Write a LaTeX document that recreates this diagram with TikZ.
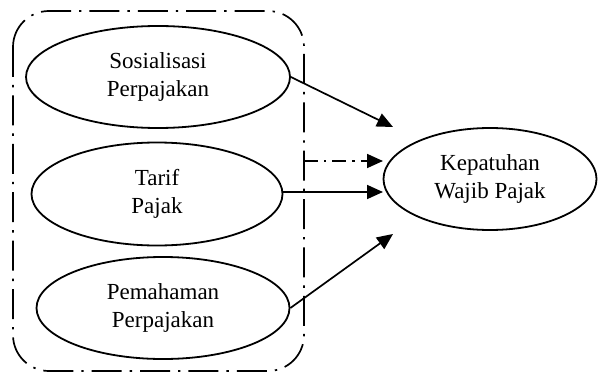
\documentclass[tikz,border=0pt]{standalone}
\usepackage{fontspec}
\setmainfont{Liberation Serif}
\usetikzlibrary{shapes.geometric,arrows.meta}
\begin{document}
\begin{tikzpicture}[x=0.5pt,y=-0.5pt,
  oval/.style={ellipse,draw,line width=0.9pt,inner sep=0pt,align=center,
    font=\fontsize{11.5pt}{13.8pt}\selectfont},
  arr/.style={line width=0.85pt,-{Triangle[length=8pt,width=7pt]}},
  groupbox/.style={line width=0.85pt,rounded corners=18pt,
    dash pattern=on 15pt off 4pt on 1.2pt off 4pt}]
\useasboundingbox (0,0) rectangle (598,374);
\draw[groupbox] (13,11) rectangle (304,371);
\node[oval,minimum width=132pt,minimum height=51pt] (e1) at (158,77) {Sosialisasi\\Perpajakan};
\node[oval,minimum width=125.5pt,minimum height=51.5pt] (e2) at (157,194) {Tarif\\Pajak};
\node[oval,minimum width=126.5pt,minimum height=51pt] (e3) at (163,308) {Pemahaman\\Perpajakan};
\node[oval,minimum width=106.5pt,minimum height=51pt] (t) at (490,179) {Kepatuhan\\Wajib Pajak};
\coordinate (a1) at (393,127);
\coordinate (a3) at (393,234);
\coordinate (ds) at (304,161);
\coordinate (de) at (383,161);
\coordinate (se) at (383,192);
\draw[arr] (e1.east) -- (a1);
\draw[arr] (e3.east) -- (a3);
\draw[arr] (e2.east |- se) -- (se);
\draw[line width=0.85pt] (304,155) -- (304,167);
\draw[arr,dash pattern=on 7pt off 3pt on 1.2pt off 3pt] (ds) -- (de);
\end{tikzpicture}
\end{document}
